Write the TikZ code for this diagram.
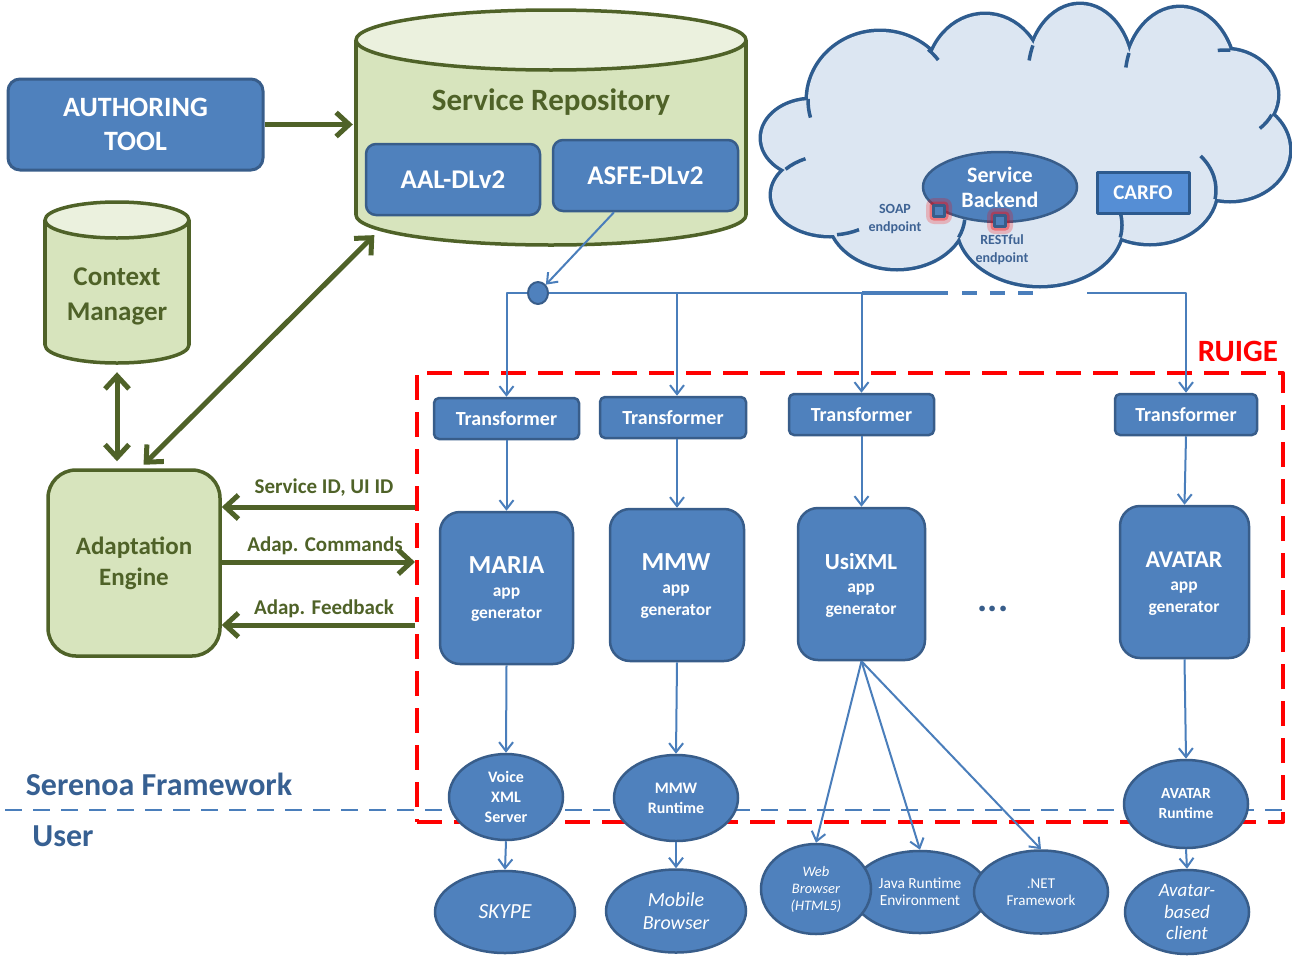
\documentclass[tikz,border=0pt]{standalone}
\usepackage{fontspec}
\setmainfont{Carlito}
\usetikzlibrary{arrows.meta,shapes.geometric,calc}
\definecolor{bfill}{HTML}{4F81BD}
\definecolor{bline}{HTML}{385D8A}
\definecolor{gfill}{HTML}{D7E4BD}
\definecolor{gtop}{HTML}{EBF1DE}
\definecolor{gline}{HTML}{4F6228}
\definecolor{cfill}{HTML}{DCE6F2}
\definecolor{cline}{HTML}{2E5C8F}
\definecolor{conn}{HTML}{4A7EBB}
\definecolor{navy}{HTML}{376092}
\definecolor{carfo}{HTML}{558ED5}
\definecolor{carfob}{HTML}{2D5A8E}
\definecolor{eptxt}{HTML}{3E6394}
\newcommand\fsz[2]{\fontsize{#1}{#2}\selectfont}

\begin{document}
\begin{tikzpicture}[x=1pt,y=-1pt,line join=round,
  bbox/.style={draw=bline,fill=bfill,line width=2.5,text=white,inner sep=0,align=center},
  tbox/.style={bbox,rounded corners=5,minimum width=145,minimum height=41,font=\fsz{20}{24}\bfseries},
  gbox/.style={bbox,rounded corners=20,minimum height=152},
  gtitle/.style={text=white,anchor=base,inner sep=0},
  gsub/.style={text=white,anchor=base,inner sep=0,font=\fsz{17.5}{21}\bfseries},
  oval/.style={ellipse,draw=bline,fill=bfill,line width=2.5,text=white,inner sep=0,align=center},
  garrow/.style={gline,line width=5,-{Straight Barb[length=13pt,width=24pt]}},
  gdarrow/.style={gline,line width=5,{Straight Barb[length=13pt,width=24pt]}-{Straight Barb[length=13pt,width=24pt]}},
  glabel/.style={text=gline,font=\fsz{21}{24}\bfseries,inner sep=0},
  bconn/.style={conn,line width=2},
  barrow/.style={conn,line width=2,-{Straight Barb[length=9pt,width=14pt]}},
  glow/.style={fill=red,opacity=0.22,minimum size=26,rounded corners=8,inner sep=0},
  glowcore/.style={fill=red,opacity=0.35,minimum size=19,rounded corners=4,inner sep=0},
  port/.style={draw=bline,fill=bfill,line width=2.5,minimum size=11,inner sep=0},
  eplabel/.style={text=eptxt,font=\fsz{14}{18}\bfseries,align=center,inner sep=0}
]
\useasboundingbox (0,0) rectangle (1292,956);

% ---------- cloud: outlined puffs, then filled on top ----------
\foreach \cx/\cy/\rx/\ry in {812/138/50/38,880/100/72/68,985/80/58/65,1080/75/52/70,
    1180/80/55/72,1225/95/52/45,1230/150/59/50,1150/190/66/53,1040/225/82/60,
    897/215/68/53,830/195/58/40}
  \draw[cline,line width=7] (\cx,\cy) ellipse [x radius=\rx,y radius=\ry];
\foreach \cx/\cy/\rx/\ry in {812/138/50/38,880/100/72/68,985/80/58/65,1080/75/52/70,
    1180/80/55/72,1225/95/52/45,1230/150/59/50,1150/190/66/53,1040/225/82/60,
    897/215/68/53,830/195/58/40,1020/150/200/90}
  \fill[cfill] (\cx,\cy) ellipse [x radius=\rx,y radius=\ry];
% short inner arcs where the puffs overlap
\foreach \cx/\cy/\rx/\ry/\a/\b in {880/100/72/68/165/181,880/100/72/68/-48/-36,
    1080/75/52/70/-168/-155,1180/80/55/72/-170/-158,1225/95/52/45/-98/-84,
    1225/95/52/45/26/48,1150/190/66/53/-40/10,1040/225/82/60/-12/12,
    897/215/68/53/5/25,830/195/58/40/60/83,830/195/58/40/-140/-115}
  \draw[cline,line width=3.5] ({\cx+\rx*cos(\a)},{\cy+\ry*sin(\a)})
    arc[start angle=\a,end angle=\b,x radius=\rx,y radius=\ry];

\node[oval,minimum width=154,minimum height=70,font=\fsz{22}{25}\bfseries] (backend) at (1000,187) {Service\\Backend};
\node[draw=carfob,fill=carfo,line width=3,text=white,inner sep=0,minimum width=92,minimum height=41,font=\fsz{21}{25}\bfseries] (carfo) at (1143,192.5) {CARFO};
\node[glow] (soapglow) at (939,211) {};
\node[glow] (restglow) at (1000,221) {};
\node[glowcore] (soapcore) at (939,211) {};
\node[glowcore] (restcore) at (1000,221) {};
\node[port] (soap) at (939,211) {};
\node[port] (rest) at (1000,221) {};
\node[eplabel] (soaplbl) at (895,219) {SOAP\\endpoint};
\node[eplabel] (restlbl) at (1002,250) {RESTful\\endpoint};

% ---------- Service Repository cylinder ----------
\fill[gfill] (356,40) rectangle (746,215);
\filldraw[fill=gfill,draw=gline,line width=3.5] (551,215) ellipse [x radius=195,y radius=30];
\fill[gfill] (356,40) rectangle (746,215);
\draw[gline,line width=3.5] (356,40) -- (356,215) (746,40) -- (746,215);
\filldraw[fill=gtop,draw=gline,line width=3.5] (551,40) ellipse [x radius=195,y radius=30];
\node[minimum width=390,minimum height=235,inner sep=0] (repo) at (551,127.5) {};
\node[text=gline,font=\fsz{31}{36}\bfseries,anchor=base,inner sep=0] (repolbl) at (551,110) {Service Repository};
\node[bbox,rounded corners=10,minimum width=174,minimum height=71,font=\fsz{27}{32}\bfseries] (aal) at (453,179.5) {AAL-DLv2};
\node[bbox,rounded corners=10,minimum width=185,minimum height=71,font=\fsz{27}{32}\bfseries] (asfe) at (645.5,175.5) {ASFE-DLv2};

% ---------- Context Manager cylinder ----------
\fill[gfill] (45,220) rectangle (189,345);
\filldraw[fill=gfill,draw=gline,line width=3.5] (117,345) ellipse [x radius=72,y radius=18];
\fill[gfill] (45,220) rectangle (189,345);
\draw[gline,line width=3.5] (45,220) -- (45,345) (189,220) -- (189,345);
\filldraw[fill=gtop,draw=gline,line width=3.5] (117,220) ellipse [x radius=72,y radius=18];
\node[minimum width=144,minimum height=161,inner sep=0] (ctx) at (117,282.5) {};
\node[text=gline,font=\fsz{27}{35}\bfseries,align=center,inner sep=0] (ctxlbl) at (117,296) {Context\\Manager};

% ---------- left column ----------
\node[bbox,rounded corners=12,line width=3,minimum width=255,minimum height=91,font=\fsz{28}{34}\bfseries] (auth) at (135.5,124.5) {AUTHORING\\TOOL};
\node[draw=gline,fill=gfill,line width=3.5,rounded corners=28,minimum width=172,minimum height=186,text=gline,font=\fsz{25}{31}\bfseries,align=center,inner sep=0] (ae) at (134,563) {Adaptation\\Engine};

% ---------- separator ----------
\coordinate (sepL) at (5,810);
\coordinate (sepR) at (1290,810);
\draw[conn,line width=2.5,dash pattern=on 16.5pt off 11.5pt] (sepL) -- (sepR);
\node[text=navy,font=\fsz{32}{36}\bfseries,inner sep=0] (fw) at (159,784) {Serenoa Framework};
\node[text=navy,font=\fsz{32}{36}\bfseries,inner sep=0] (user) at (63,836) {User};

% ---------- RUIGE ----------
\node[draw=red,line width=4,dash pattern=on 25pt off 12pt,minimum width=866,minimum height=449,inner sep=0] (ruige) at (850,597.5) {};
\node[text=red,font=\fsz{31}{36}\bfseries,inner sep=0] (ruigelbl) at (1238,351) {RUIGE};

\node[tbox] (t1) at (506.5,418.5) {Transformer};
\node[tbox,minimum width=146] (t2) at (673,417.5) {Transformer};
\node[tbox] (t3) at (861.5,414.5) {Transformer};
\node[tbox,minimum width=142] (t4) at (1186,414.5) {Transformer};

\node[gbox,minimum width=133] (g1) at (506.5,588) {};
\node[gbox,minimum width=134] (g2) at (677,585) {};
\node[gbox,minimum width=127] (g3) at (861.5,584) {};
\node[gbox,minimum width=129] (g4) at (1184.5,582) {};
\node[gtitle,font=\fsz{26}{30}\bfseries] (g1t) at (506.5,573) {MARIA};
\node[gsub] (g1a) at (506.5,596) {app};
\node[gsub] (g1g) at (506.5,618) {generator};
\node[gtitle,font=\fsz{26}{30}\bfseries] (g2t) at (676,570) {MMW};
\node[gsub] (g2a) at (676,593) {app};
\node[gsub] (g2g) at (676,615) {generator};
\node[gtitle,font=\fsz{23}{28}\bfseries] (g3t) at (861,569) {UsiXML};
\node[gsub] (g3a) at (861,592) {app};
\node[gsub] (g3g) at (861,614) {generator};
\node[gtitle,font=\fsz{24}{28}\bfseries] (g4t) at (1184,567) {AVATAR};
\node[gsub] (g4a) at (1184,590) {app};
\node[gsub] (g4g) at (1184,612) {generator};
\node[text=bline,font=\fsz{38}{40}\bfseries,anchor=base,inner sep=0] (dots) at (993,611) {...};

% ---------- runtimes and clients ----------
\node[oval,minimum width=114,minimum height=86,font=\fsz{16}{20}\bfseries] (vxml) at (506,797) {Voice\\XML\\Server};
\node[oval,minimum width=124,minimum height=86,font=\fsz{16}{20}\bfseries] (mmwrt) at (676,798) {MMW\\Runtime};
\node[oval,minimum width=124,minimum height=88,font=\fsz{15.5}{20}\bfseries] (avrt) at (1186,804) {AVATAR\\Runtime};
\node[oval,minimum width=140,minimum height=82,font=\fsz{21.5}{25}\itshape] (skype) at (505,912) {SKYPE};
\node[oval,minimum width=140,minimum height=83,font=\fsz{20}{23}\itshape] (mobile) at (676,911) {Mobile\\Browser};
\node[oval,minimum width=136,minimum height=82,font=\fsz{15.4}{17}] (java) at (920,892) {Java Runtime\\Environment};
\node[oval,minimum width=110,minimum height=90,font=\fsz{14.5}{17}\itshape] (web) at (816,889) {Web\\Browser\\(HTML5)};
\node[oval,minimum width=134,minimum height=83,font=\fsz{15}{17}] (net) at (1041,892) {.NET\\Framework};
\node[oval,minimum width=124,minimum height=84,font=\fsz{19}{21.5}\itshape] (avcl) at (1187,912) {Avatar-\\based\\client};

% ---------- distribution bus ----------
\node[ellipse,draw=bline,fill=bfill,line width=2,minimum width=20,minimum height=22,inner sep=0] (dot) at (538,293) {};
\coordinate (asfeOut) at ($(asfe.south)+(-31.5,0)$);
\coordinate (dashA) at (862,293);
\coordinate (dashB) at (948,293);
\coordinate (dashC) at (962,293);
\coordinate (dashD) at (1035,293);
\coordinate (busE) at (1087,293);
\draw[barrow] (asfeOut) -- (dot);
\draw[bconn] (dot) -- (dashA);
\draw[barrow] (dot) -| (t1.north);
\draw[barrow] (dot -| g2.north) -- (t2.north -| g2.north);
\draw[barrow] (t3.north |- dot) -- (t3.north);
\draw[conn,line width=4] (dashA) -- (dashB);
\draw[conn,line width=4,dash pattern=on 15pt off 13pt] (dashC) -- (dashD);
\draw[barrow] (busE) -| (t4.north);

\draw[barrow] (t1.south) -- (g1.north);
\draw[barrow] (t2.south -| g2.north) -- (g2.north);
\draw[barrow] (t3.south) -- (g3.north);
\draw[barrow] (t4.south) -- (g4.north);
\draw[barrow] (g1.south) -- (vxml.north);
\draw[barrow] (g2.south) -- (mmwrt.north);
\draw[barrow] (g4.south) -- (avrt.north);
\draw[barrow] (g3.south) -- (web.north);
\draw[barrow] (g3.south) -- (java.north);
\draw[barrow] (g3.south) -- (net.north);
\draw[barrow] (vxml.south) -- (skype.north);
\draw[barrow] (mmwrt.south) -- (mobile.north);
\draw[barrow] (avrt.south) -- (avcl.north);

% ---------- green control flows ----------
\coordinate (aeTop) at (ae.north -| 140,0);
\coordinate (repoFoot) at (380,229.5);
\draw[garrow,shorten >=3] (auth.east) -- (auth.east -| repo.west);
\draw[gdarrow,shorten <=9,shorten >=7] (ctx.south) -- (ctx.south |- ae.north);
\draw[gdarrow,shorten <=5,shorten >=8] (aeTop) -- (repoFoot);
\draw[garrow] (ruige.west |- 0,507) -- (ae.east |- 0,507);
\draw[garrow] (ae.east |- 0,562) -- (ruige.west |- 0,562);
\draw[garrow] (ruige.west |- 0,625) -- (ae.east |- 0,625);
\node[glabel] (sidlbl) at (324,488) {Service ID, UI ID};
\node[glabel] (cmdlbl) at (325,546) {Adap. Commands};
\node[glabel] (fbklbl) at (324,609) {Adap. Feedback};
\end{tikzpicture}
\end{document}
